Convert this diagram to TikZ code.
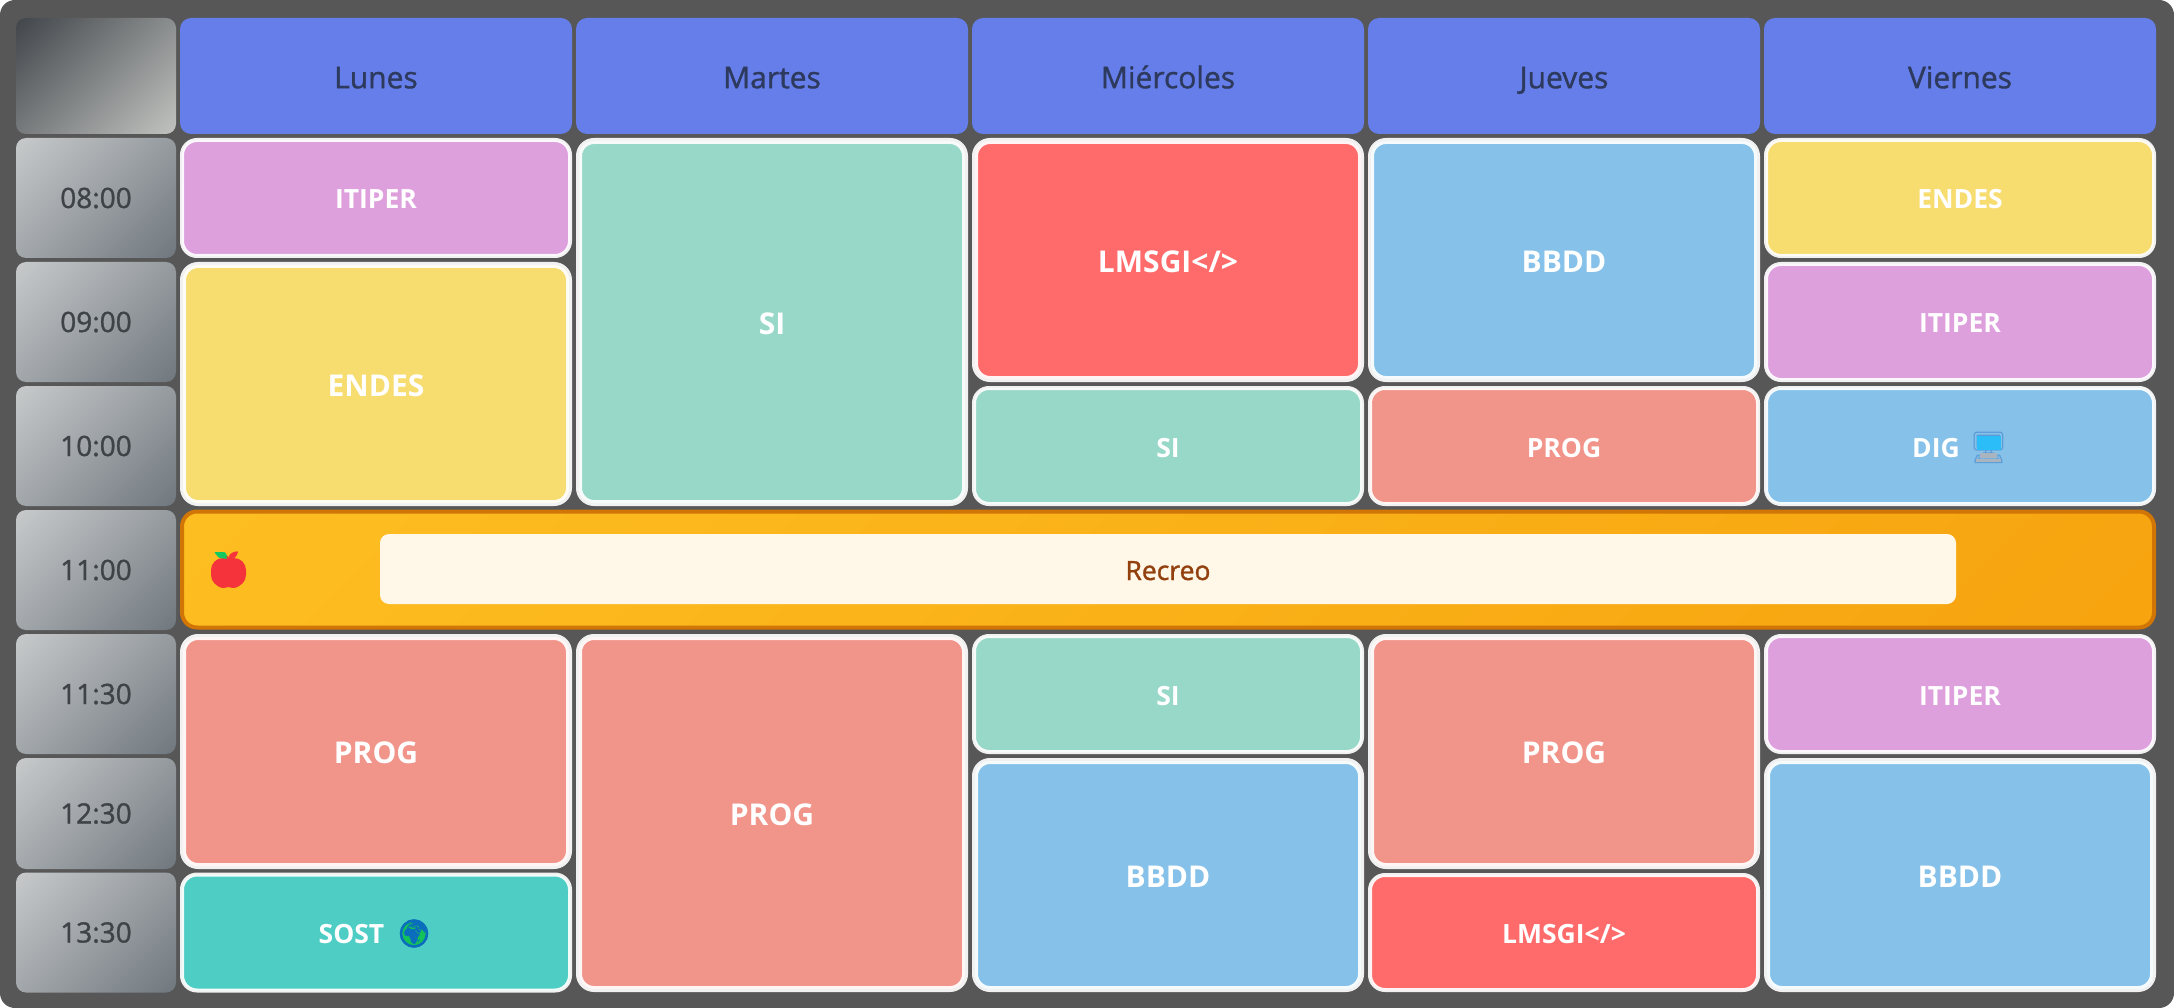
\documentclass[tikz,border=0pt]{standalone}
\usepackage{fontspec}
\setmainfont{Open Sans}
\newfontfamily\emojifont{Noto Emoji}
\newfontfamily\mediumfont[FakeBold=1.2]{Open Sans}
\usepackage{xcolor}
\definecolor{framegray}{HTML}{575757}
\definecolor{headblue}{HTML}{667EEA}
\definecolor{headtext}{HTML}{2D3A5E}
\definecolor{timetext}{HTML}{3E4347}
\definecolor{slotlight}{HTML}{CDCFD0}
\definecolor{slotdark}{HTML}{6A7279}
\definecolor{cornerdark}{HTML}{3C4146}
\definecolor{cornerlight}{HTML}{CACBC8}
\definecolor{itipercol}{HTML}{DDA0DD}
\definecolor{endescol}{HTML}{F7DC6F}
\definecolor{sicol}{HTML}{98D8C8}
\definecolor{lmsgicol}{HTML}{FF6B6B}
\definecolor{bbddcol}{HTML}{85C1E9}
\definecolor{progcol}{HTML}{F1948A}
\definecolor{sostcol}{HTML}{4ECDC4}
\definecolor{breakleft}{HTML}{FFC425}
\definecolor{breakright}{HTML}{F59E0B}
\definecolor{breakline}{HTML}{D07506}
\definecolor{breakpale}{HTML}{FFF7E8}
\definecolor{breaktext}{HTML}{92400E}
\definecolor{applered}{HTML}{F5333A}
\definecolor{leafgreen}{HTML}{14C860}
\definecolor{seablue}{HTML}{0A6EBD}
\definecolor{landgreen}{HTML}{14C25A}
\definecolor{screenblue}{HTML}{2BBDF8}
\definecolor{screenline}{HTML}{5A9AD6}
\definecolor{standgray}{HTML}{A9B4BE}
\pgfdeclareverticalshading{slotfade}{100bp}{color(0bp)=(slotdark); color(10bp)=(slotdark); color(90bp)=(slotlight); color(100bp)=(slotlight)}
\pgfdeclareverticalshading{cornerfade}{100bp}{color(0bp)=(cornerlight); color(10bp)=(cornerlight); color(88bp)=(cornerdark); color(100bp)=(cornerdark)}
\pgfdeclareverticalshading{breakfade}{100bp}{color(0bp)=(breakright); color(100bp)=(breakleft)}
\tikzset{
    cell/.style={fill=#1, draw=white, draw opacity=0.92, line width=4pt, rounded corners=15pt,
        minimum width=388pt, inner sep=0pt, text=white, text height=22pt, text depth=0pt,
        font=\bfseries\fontsize{26.5}{30}\selectfont},
    tallcell/.style={cell=#1, line width=6pt, minimum width=386pt, text height=24.5pt,
        font=\bfseries\fontsize{30}{34}\selectfont},
    head/.style={fill=headblue, rounded corners=11pt, minimum width=392pt, minimum height=116pt,
        inner sep=0pt, text=headtext, text height=24.5pt, text depth=0pt, font=\mediumfont\fontsize{30}{34}\selectfont},
    slot/.style={shading=slotfade, shading angle=45, rounded corners=10pt, minimum width=160pt,
        inner sep=0pt, text=timetext, text height=20pt, text depth=0pt, font=\mediumfont\fontsize{28}{32}\selectfont},
    emoji/.style={inner sep=0pt, text=#1, font=\emojifont\fontsize{30}{30}\selectfont},
}
\begin{document}
\begin{tikzpicture}[x=1pt, y=-1pt]
    \useasboundingbox (0, 0) rectangle (2174, 1008);
    \fill [framegray, rounded corners=15pt] (0, 0) rectangle (2174, 1008);

    % header row
    \node [rounded corners=10pt, minimum width=160pt, minimum height=116pt, inner sep=0pt,
        shading=cornerfade, shading angle=45] (corner) at (96, 76) {};
    \foreach \x/\name/\day in {376/lun/Lunes, 772/mar/Martes, 1168/mie/Miércoles, 1564/jue/Jueves, 1960/vie/Viernes} {
        \node [head] (\name) at (\x, 76) {\day};
    }

    % hours
    \foreach \y/\h/\name/\hour in {198/120/h8/08:00, 322/120/h9/09:00, 446/120/h10/10:00, 570/120/h11/11:00,
            694/120/h11b/11:30, 813.5/111/h12/12:30, 932.5/120/h13/13:30} {
        \node [slot, minimum height=\h pt] (\name) at (96, \y) {\hour};
    }

    % Lunes
    \node [cell=itipercol, minimum height=116pt] (lun1) at (376, 198) {ITIPER};
    \node [tallcell=endescol, minimum height=238pt] (lun2) at (376, 384) {ENDES};
    \node [tallcell=progcol, minimum height=229pt] (lun3) at (376, 751.5) {PROG};
    \node [cell=sostcol, minimum height=116pt] (lun4) at (376, 932.5) {SOST\kern49pt};
    % Martes
    \node [tallcell=sicol, minimum height=362pt] (mar1) at (772, 322) {SI};
    \node [tallcell=progcol, minimum height=352pt] (mar2) at (772, 813) {PROG};
    % Miercoles
    \node [tallcell=lmsgicol, minimum height=238pt] (mie1) at (1168, 260) {LMSGI</>};
    \node [cell=sicol, minimum height=116pt] (mie2) at (1168, 446) {SI};
    \node [cell=sicol, minimum height=116pt] (mie3) at (1168, 694) {SI};
    \node [tallcell=bbddcol, minimum height=228pt] (mie4) at (1168, 875) {BBDD};
    % Jueves
    \node [tallcell=bbddcol, minimum height=238pt] (jue1) at (1564, 260) {BBDD};
    \node [cell=progcol, minimum height=116pt] (jue2) at (1564, 446) {PROG};
    \node [tallcell=progcol, minimum height=229pt] (jue3) at (1564, 751.5) {PROG};
    \node [cell=lmsgicol, minimum height=115pt] (jue4) at (1564, 932.5) {LMSGI</>};
    % Viernes
    \node [cell=endescol, minimum height=116pt] (vie1) at (1960, 198) {ENDES};
    \node [cell=itipercol, minimum height=116pt] (vie2) at (1960, 322) {ITIPER};
    \node [cell=bbddcol, minimum height=116pt] (vie3) at (1960, 446) {DIG\kern48pt};
    \node [cell=itipercol, minimum height=116pt] (vie4) at (1960, 694) {ITIPER};
    \node [tallcell=bbddcol, minimum height=228pt] (vie5) at (1960, 875) {BBDD};

    % recreo
    \node [shading=breakfade, shading angle=45, draw=breakline,
        line width=4pt, rounded corners=15pt, minimum width=1972pt, minimum height=116pt, inner sep=0pt] (recreo) at (1168, 569.5) {};
    \node [fill=breakpale, rounded corners=9pt, minimum width=1576pt, minimum height=70pt, inner sep=0pt,
        text=breaktext, font=\mediumfont\fontsize{26.5}{30}\selectfont, text height=22pt, text depth=0pt] (recreolabel) at (1168, 569) {Recreo};

    % apple
    \fill [applered, rounded corners=12pt] (211, 558) rectangle (246, 587);
    \fill [leafgreen, rounded corners=1pt] (214, 552) -- (225, 552) -- (229, 559) -- (219, 558) -- cycle;
    \node [emoji=applered, font=\emojifont\fontsize{36}{36}\selectfont] (apple) at (228.5, 570) {🍎};
    % globe
    \fill [seablue] (414, 933.5) circle (14pt);
    \node [emoji=landgreen, font=\emojifont\fontsize{26}{26}\selectfont] (globe) at (414, 933.5) {🌍};
    \draw [seablue, line width=2.5pt] (414, 933.5) circle (13pt);
    % monitor
    \node [emoji=screenline, font=\emojifont\fontsize{31}{31}\selectfont] (monitor) at (1988.5, 447.5) {🖥};
    \fill [screenblue] (1976.5, 435.5) rectangle (2000.5, 450);
    \fill [standgray] (1980, 453) rectangle (1997, 458);
    \fill [standgray] (1976, 459) rectangle (2001, 462);
\end{tikzpicture}
\end{document}
